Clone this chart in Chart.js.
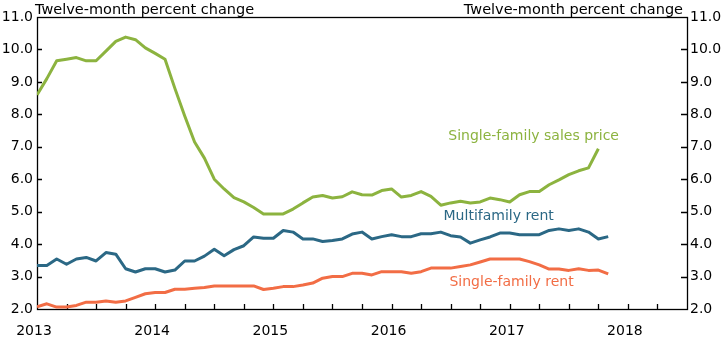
<!DOCTYPE html>
<html>
<head>
<meta charset="utf-8">
<script src="https://cdn.jsdelivr.net/npm/chart.js@4.4.1/dist/chart.umd.min.js"></script>
<style>
  html, body { margin: 0; padding: 0; background: #ffffff; }
  #wrap { width: 725px; height: 338px; }
</style>
</head>
<body>
<div id="wrap"><canvas id="chart" width="725" height="338"></canvas></div>
<script>
// Monthly observations, January 2013 through November 2017
const months = [
  '2013-01','2013-02','2013-03','2013-04','2013-05','2013-06','2013-07','2013-08','2013-09','2013-10','2013-11','2013-12',
  '2014-01','2014-02','2014-03','2014-04','2014-05','2014-06','2014-07','2014-08','2014-09','2014-10','2014-11','2014-12',
  '2015-01','2015-02','2015-03','2015-04','2015-05','2015-06','2015-07','2015-08','2015-09','2015-10','2015-11','2015-12',
  '2016-01','2016-02','2016-03','2016-04','2016-05','2016-06','2016-07','2016-08','2016-09','2016-10','2016-11','2016-12',
  '2017-01','2017-02','2017-03','2017-04','2017-05','2017-06','2017-07','2017-08','2017-09','2017-10','2017-11'
];

// Twelve-month percent change (sales price series runs through October 2017)
const sfSalesPrice = [
  8.6, 9.1, 9.65, 9.7, 9.75, 9.65, 9.65, 9.95, 10.25, 10.38, 10.3, 10.05,
  9.88, 9.7, 8.8, 7.95, 7.15, 6.65, 6.0, 5.7, 5.43, 5.3, 5.13, 4.93,
  4.93, 4.93, 5.08, 5.27, 5.45, 5.5, 5.42, 5.46, 5.61, 5.52, 5.51, 5.65,
  5.7, 5.45, 5.5, 5.62, 5.47, 5.2, 5.27, 5.32, 5.27, 5.3, 5.42, 5.37,
  5.3, 5.52, 5.62, 5.62, 5.83, 5.98, 6.14, 6.26, 6.35, 6.94
];
const mfRent = [
  3.34, 3.34, 3.54, 3.38, 3.54, 3.59, 3.48, 3.74, 3.69, 3.24, 3.14, 3.24,
  3.24, 3.14, 3.2, 3.48, 3.48, 3.63, 3.84, 3.64, 3.83, 3.95, 4.22, 4.18,
  4.18, 4.42, 4.37, 4.16, 4.16, 4.08, 4.11, 4.16, 4.31, 4.37, 4.16, 4.23,
  4.29, 4.23, 4.23, 4.32, 4.32, 4.37, 4.26, 4.22, 4.03, 4.13, 4.22, 4.34,
  4.34, 4.29, 4.29, 4.29, 4.42, 4.47, 4.42, 4.47, 4.37, 4.16, 4.23
];
const sfRent = [
  2.07, 2.16, 2.06, 2.06, 2.11, 2.21, 2.21, 2.25, 2.21, 2.25, 2.36, 2.47,
  2.51, 2.51, 2.61, 2.61, 2.64, 2.66, 2.71, 2.71, 2.71, 2.71, 2.71, 2.6,
  2.64, 2.69, 2.69, 2.74, 2.8, 2.95, 3.0, 3.0, 3.1, 3.1, 3.05, 3.15,
  3.15, 3.15, 3.1, 3.15, 3.26, 3.26, 3.26, 3.31, 3.36, 3.45, 3.54, 3.54,
  3.54, 3.54, 3.46, 3.36, 3.23, 3.23, 3.19, 3.24, 3.19, 3.2, 3.08
];

const seriesNames = ['Single-family sales price', 'Multifamily rent', 'Single-family rent'];
const seriesColors = ['#8cb33f', '#2b6885', '#f26d45'];
const yTickValues = [2, 3, 4, 5, 6, 7, 8, 9, 10, 11];
const yearLabels = [2013, 2014, 2015, 2016, 2017, 2018];
const unitsTitle = 'Twelve-month percent change';

const FONT = 'DejaVu Sans';

// month string -> fractional year position on the time axis
function monthToYear(m) {
  const [y, mo] = m.split('-').map(Number);
  return y + (mo - 1) / 12;
}
function toPoints(values) {
  return values.map((v, i) => ({ x: monthToYear(months[i]), y: v }));
}

// quarterly tick positions across the axis range
const xMin = yearLabels[0];
const xMax = yearLabels[yearLabels.length - 1] + 0.5;
const quarterTicks = [];
for (let q = xMin; q <= xMax + 1e-9; q += 0.25) quarterTicks.push(+q.toFixed(2));

// where each series name sits, in axis units (year, percent)
const nameAnchors = [
  { x: 2016.48, y: 7.31 },
  { x: 2016.44, y: 4.87 },
  { x: 2016.49, y: 2.81 }
];

const framePlugin = {
  id: 'frame',
  beforeDatasetsDraw(chart) {
    const { ctx, chartArea: a, scales } = chart;
    ctx.save();
    ctx.strokeStyle = '#000';
    ctx.lineWidth = 1.3;
    // inward tick marks on the bottom axis
    quarterTicks.forEach(v => {
      if (v <= xMin || v >= xMax) return;
      const px = Math.round(scales.x.getPixelForValue(v)) + 0.5;
      ctx.beginPath();
      ctx.moveTo(px, a.bottom);
      ctx.lineTo(px, a.bottom - 5);
      ctx.stroke();
    });
    // inward tick marks on both value axes
    yTickValues.forEach(v => {
      if (v <= yTickValues[0] || v >= yTickValues[yTickValues.length - 1]) return;
      const py = Math.round(scales.y.getPixelForValue(v)) + 0.5;
      ctx.beginPath();
      ctx.moveTo(a.left, py);
      ctx.lineTo(a.left + 5, py);
      ctx.moveTo(a.right, py);
      ctx.lineTo(a.right - 6, py);
      ctx.stroke();
    });
    ctx.strokeRect(Math.round(a.left) + 0.5, Math.round(a.top) + 0.5,
                   Math.round(a.right - a.left), Math.round(a.bottom - a.top));
    ctx.restore();
  },
  afterDraw(chart) {
    const { ctx, chartArea: a, scales } = chart;
    ctx.save();
    ctx.fillStyle = '#000';
    ctx.font = '14.5px "' + FONT + '"';
    ctx.textBaseline = 'alphabetic';
    ctx.textAlign = 'left';
    ctx.fillText(unitsTitle, a.left - 2, 14);
    ctx.textAlign = 'right';
    ctx.fillText(unitsTitle, a.right - 4, 14);

    // year labels under the time axis
    ctx.font = '14px "' + FONT + '"';
    ctx.textAlign = 'center';
    ctx.textBaseline = 'middle';
    yearLabels.forEach(yr => {
      ctx.fillText(String(yr), scales.x.getPixelForValue(yr) - 3, a.bottom + 22);
    });

    ctx.textAlign = 'left';
    seriesNames.forEach((name, i) => {
      ctx.fillStyle = seriesColors[i];
      ctx.fillText(name, scales.x.getPixelForValue(nameAnchors[i].x),
                   scales.y.getPixelForValue(nameAnchors[i].y));
    });
    ctx.restore();
  }
};

const valueAxis = (position, width, pad) => ({
  type: 'linear',
  position,
  min: yTickValues[0],
  max: yTickValues[yTickValues.length - 1],
  afterBuildTicks: s => { s.ticks = yTickValues.map(v => ({ value: v })); },
  afterFit: s => { s.width = width; },
  grid: { display: false, drawTicks: false },
  border: { display: false },
  ticks: {
    color: '#000',
    padding: pad,
    font: { family: FONT, size: 14 },
    callback: v => Number(v).toFixed(1)
  }
});

new Chart(document.getElementById('chart'), {
  type: 'line',
  data: {
    datasets: [
      { label: seriesNames[0], data: toPoints(sfSalesPrice), borderColor: seriesColors[0] },
      { label: seriesNames[1], data: toPoints(mfRent), borderColor: seriesColors[1] },
      { label: seriesNames[2], data: toPoints(sfRent), borderColor: seriesColors[2] }
    ].map(d => Object.assign(d, {
      yAxisID: 'y', borderWidth: 3, pointRadius: 0, tension: 0,
      fill: false, borderJoinStyle: 'round', borderCapStyle: 'butt'
    }))
  },
  options: {
    responsive: false,
    devicePixelRatio: 1,
    animation: false,
    layout: { padding: { top: 17, left: 0, right: 0, bottom: 0 } },
    plugins: { legend: { display: false }, tooltip: { enabled: false }, title: { display: false } },
    scales: {
      x: {
        type: 'linear',
        min: xMin,
        max: xMax,
        afterBuildTicks: s => { s.ticks = quarterTicks.map(v => ({ value: v })); },
        afterFit: s => { s.height = 29; },
        grid: { display: false, drawTicks: false },
        border: { display: false },
        ticks: { display: false }
      },
      y: valueAxis('left', 37, 4),
      y2: valueAxis('right', 38, 3)
    }
  },
  plugins: [framePlugin]
});
</script>
</body>
</html>
